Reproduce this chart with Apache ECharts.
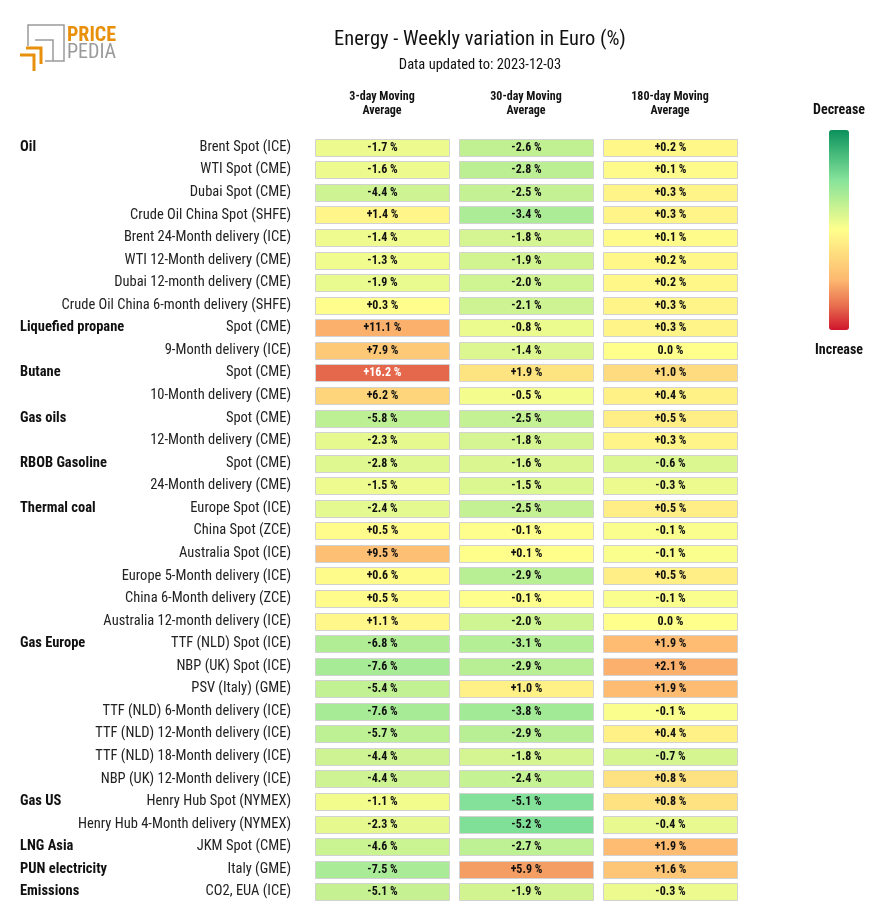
<!DOCTYPE html>
<html>
<head>
<meta charset="utf-8">
<script src="https://cdn.jsdelivr.net/npm/echarts@6/dist/echarts.min.js"></script>
<style>html,body{margin:0;padding:0;background:#fff;}#chart{width:880px;height:905px;}</style>
</head>
<body>
<div id="chart"></div>
<script>
const FONT = '"Roboto Condensed","Liberation Sans Narrow",Roboto,sans-serif';

const columns = ['3-day Moving\nAverage', '30-day Moving\nAverage', '180-day Moving\nAverage'];

const rowLabels = [
  'Brent Spot (ICE)', 'WTI Spot (CME)', 'Dubai Spot (CME)', 'Crude Oil China Spot (SHFE)',
  'Brent 24-Month delivery (ICE)', 'WTI 12-Month delivery (CME)', 'Dubai 12-month delivery (CME)',
  'Crude Oil China 6-month delivery (SHFE)',
  'Spot (CME)', '9-Month delivery (ICE)',
  'Spot (CME)', '10-Month delivery (CME)',
  'Spot (CME)', '12-Month delivery (CME)',
  'Spot (CME)', '24-Month delivery (CME)',
  'Europe Spot (ICE)', 'China Spot (ZCE)', 'Australia Spot (ICE)', 'Europe 5-Month delivery (ICE)',
  'China 6-Month delivery (ZCE)', 'Australia 12-month delivery (ICE)',
  'TTF (NLD) Spot (ICE)', 'NBP (UK) Spot (ICE)', 'PSV (Italy) (GME)', 'TTF (NLD) 6-Month delivery (ICE)',
  'TTF (NLD) 12-Month delivery (ICE)', 'TTF (NLD) 18-Month delivery (ICE)', 'NBP (UK) 12-Month delivery (ICE)',
  'Henry Hub Spot (NYMEX)', 'Henry Hub 4-Month delivery (NYMEX)',
  'JKM Spot (CME)',
  'Italy (GME)',
  'CO2, EUA (ICE)'
];

const groupNames = ['Oil', 'Liquefied propane', 'Butane', 'Gas oils', 'RBOB Gasoline', 'Thermal coal',
  'Gas Europe', 'Gas US', 'LNG Asia', 'PUN electricity', 'Emissions'];
const groupStartRows = [0, 8, 10, 12, 14, 16, 22, 29, 31, 32, 33];

const ma3 = [-1.7, -1.6, -4.4, 1.4, -1.4, -1.3, -1.9, 0.3, 11.1, 7.9, 16.2, 6.2, -5.8, -2.3, -2.8, -1.5,
  -2.4, 0.5, 9.5, 0.6, 0.5, 1.1, -6.8, -7.6, -5.4, -7.6, -5.7, -4.4, -4.4, -1.1, -2.3, -4.6, -7.5, -5.1];
const ma30 = [-2.6, -2.8, -2.5, -3.4, -1.8, -1.9, -2.0, -2.1, -0.8, -1.4, 1.9, -0.5, -2.5, -1.8, -1.6, -1.5,
  -2.5, -0.1, 0.1, -2.9, -0.1, -2.0, -3.1, -2.9, 1.0, -3.8, -2.9, -1.8, -2.4, -5.1, -5.2, -2.7, 5.9, -1.9];
const ma180 = [0.2, 0.1, 0.3, 0.3, 0.1, 0.2, 0.2, 0.3, 0.3, 0.0, 1.0, 0.4, 0.5, 0.3, -0.6, -0.3,
  0.5, -0.1, -0.1, 0.5, -0.1, 0.0, 1.9, 2.1, 1.9, -0.1, 0.4, -0.7, 0.8, 0.8, -0.4, 1.9, 1.6, -0.3];

const seriesValues = [ma3, ma30, ma180];
const colorRanges = [21, 10, 4];

const scaleColors = ['#0b915d', '#48bb7c', '#86e39a', '#c3f193', '#ffff8c', '#fedb7e', '#fdb870', '#e8704f', '#d0152c'];

function fmt(v) {
  if (v === 0) return '0.0 %';
  return (v > 0 ? '+' : '') + v.toFixed(1) + ' %';
}

const chart = echarts.init(document.getElementById('chart'), null, {renderer: 'canvas'});

const series = seriesValues.map(function (vals, ci) {
  return {
    type: 'custom',
    xAxisIndex: 0,
    yAxisIndex: 0,
    data: vals.map(function (v, ri) { return [ci, ri, v]; }),
    renderItem: function (params, api) {
      const c = api.coord([api.value(0), api.value(1)]);
      const s = api.size([1, 1]);
      const w = s[0] - 10, h = s[1] - 5.6;
      const v = api.value(2);
      const fill = api.visual('color');
      return {
        type: 'rect',
        shape: {x: Math.round(c[0] - w / 2) + 0.5, y: Math.round(c[1] - h / 2) + 0.5, width: Math.round(w), height: Math.round(h)},
        style: {fill: fill, stroke: '#d2d2d2', lineWidth: 1},
        textContent: {
          style: {
            text: fmt(v),
            fill: Math.abs(v) > 14 ? '#ffffff' : '#111111',
            font: 'bold 12px ' + FONT
          }
        },
        textConfig: {position: 'inside'}
      };
    }
  };
});

const visualMaps = colorRanges.map(function (r, ci) {
  return {
    type: 'continuous', show: false, seriesIndex: ci, dimension: 2,
    min: -r, max: r,
    inRange: {color: scaleColors}
  };
});
visualMaps.push({
  type: 'continuous', show: true, seriesIndex: [], min: 0, max: 1,
  calculable: false, itemWidth: 20, itemHeight: 200,
  left: 814, top: 115, text: null,
  inRange: {color: scaleColors.slice().reverse()}
});

chart.setOption({
  animation: false,
  backgroundColor: '#ffffff',
  title: {
    text: 'Energy - Weekly variation in Euro (%)',
    subtext: 'Data updated to: 2023-12-03',
    left: 475, top: 24, textAlign: 'center', itemGap: 8,
    textStyle: {fontFamily: FONT, fontSize: 20.5, fontWeight: 'normal', color: '#111'},
    subtextStyle: {fontFamily: FONT, fontSize: 14.5, color: '#111'}
  },
  grid: [
    {left: 310, top: 136, width: 432, height: 767},
    {left: 20, top: 136, width: 200, height: 767}
  ],
  xAxis: [
    {
      type: 'category', gridIndex: 0, data: columns, position: 'top',
      axisLine: {show: false}, axisTick: {show: false}, splitLine: {show: false},
      axisLabel: {margin: 18, fontFamily: FONT, fontWeight: 'bold', fontSize: 12, lineHeight: 14, color: '#111', interval: 0}
    },
    {type: 'value', gridIndex: 1, show: false}
  ],
  yAxis: [
    {
      type: 'category', gridIndex: 0, data: rowLabels, inverse: true,
      axisLine: {show: false}, axisTick: {show: false}, splitLine: {show: false},
      axisLabel: {margin: 19, fontFamily: FONT, fontSize: 14.5, color: '#222', interval: 0}
    },
    {
      type: 'category', gridIndex: 1, data: rowLabels, inverse: true,
      axisLine: {show: false}, axisTick: {show: false}, splitLine: {show: false},
      axisLabel: {
        inside: true, margin: 0, align: 'left', interval: 0,
        fontFamily: FONT, fontSize: 14.5, fontWeight: 'bold', color: '#111',
        padding: [0, 0, 4, 0],
        formatter: function (val, idx) {
          const g = groupStartRows.indexOf(idx);
          return g >= 0 ? groupNames[g] : '';
        }
      }
    }
  ],
  visualMap: visualMaps,
  series: series,
  graphic: [
    {type: 'polyline', shape: {points: [[28, 46], [28, 25], [64, 25], [64, 61], [45, 61]]}, style: {stroke: '#9a9a9a', lineWidth: 1.5, fill: null}},
    {type: 'polyline', shape: {points: [[35, 40], [53, 40], [53, 61]]}, style: {stroke: '#9a9a9a', lineWidth: 1.5, fill: null}},
    {type: 'polyline', shape: {points: [[26, 48], [41, 48], [41, 64]]}, style: {stroke: '#e8900c', lineWidth: 3, fill: null}},
    {type: 'polyline', shape: {points: [[20, 55], [34, 55], [34, 71]]}, style: {stroke: '#e8900c', lineWidth: 3, fill: null}},
    {type: 'text', left: 67, top: 26, style: {text: 'PRICE', font: 'bold 20px ' + FONT, fill: '#e8900c'}},
    {type: 'text', left: 67, top: 43, style: {text: 'PEDIA', font: '20px ' + FONT, fill: '#9a9a9a'}},
    {type: 'text', x: 839, y: 110, style: {text: 'Decrease', font: 'bold 14px ' + FONT, fill: '#111', align: 'center', verticalAlign: 'middle'}},
    {type: 'text', x: 839, y: 350, style: {text: 'Increase', font: 'bold 14px ' + FONT, fill: '#111', align: 'center', verticalAlign: 'middle'}}
  ]
});
</script>
</body>
</html>
